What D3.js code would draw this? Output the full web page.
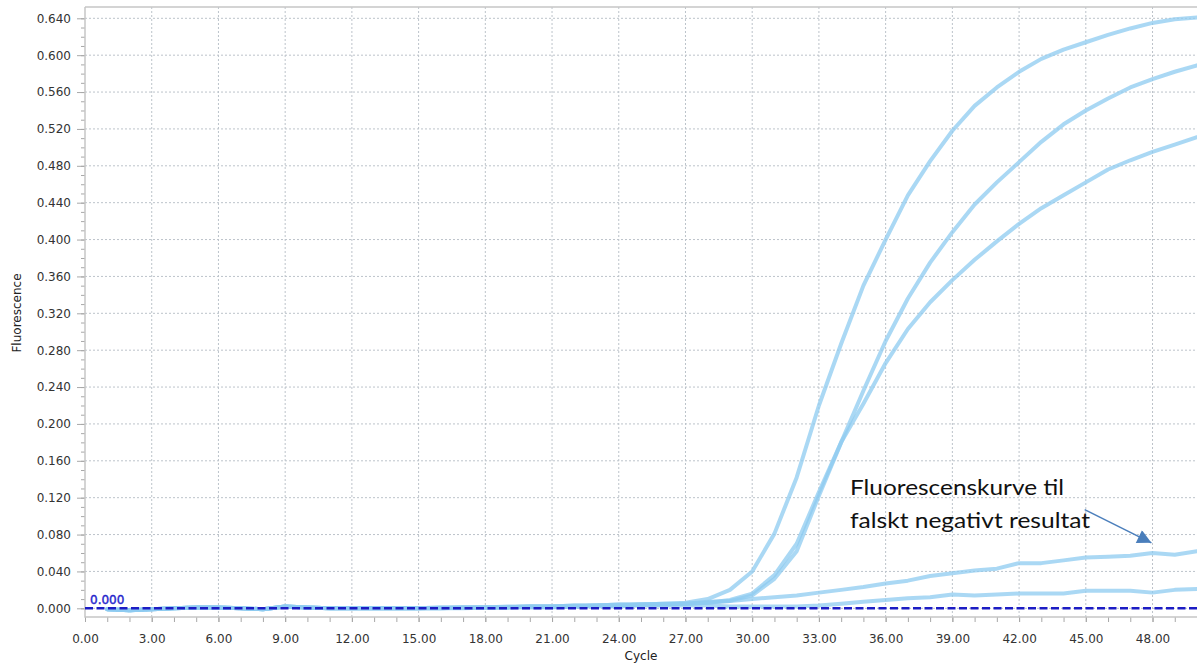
<!DOCTYPE html>
<html>
<head>
<meta charset="utf-8">
<script src="https://cdn.jsdelivr.net/npm/d3@7"></script>
<style>
  html, body { margin: 0; padding: 0; background: #fff; }
  svg { display: block; font-family: "DejaVu Sans", sans-serif; }
  .tick text { fill: #333; font-size: 12px; }
  .tick line { stroke: #a8a8a8; }
</style>
</head>
<body>
<svg id="chart" width="1197" height="664"></svg>
<script>
// cycles 1..50
const cycles = [1, 2, 3, 4, 5, 6, 7, 8, 9, 10, 11, 12, 13, 14, 15, 16, 17, 18, 19, 20,
  21, 22, 23, 24, 25, 26, 27, 28, 29, 30, 31, 32, 33, 34, 35, 36, 37, 38, 39, 40,
  41, 42, 43, 44, 45, 46, 47, 48, 49, 50];

// fluorescence per well
const wellA = [-0.001, -0.002, -0.001, 0.000, 0.001, 0.001, 0.000, -0.001, 0.002, 0.001,
  0.000, 0.000, 0.000, 0.000, 0.000, 0.001, 0.001, 0.001, 0.002, 0.002,
  0.002, 0.003, 0.003, 0.004, 0.004, 0.005, 0.006, 0.010, 0.020, 0.040,
  0.081, 0.142, 0.220, 0.287, 0.350, 0.400, 0.448, 0.485, 0.518, 0.545,
  0.565, 0.582, 0.596, 0.606, 0.614, 0.622, 0.629, 0.635, 0.639, 0.641];
const wellB = [-0.001, -0.002, -0.001, 0.000, 0.001, 0.001, 0.000, -0.001, 0.002, 0.001,
  0.000, 0.000, 0.000, 0.000, 0.000, 0.000, 0.001, 0.001, 0.001, 0.002,
  0.002, 0.002, 0.003, 0.003, 0.004, 0.004, 0.005, 0.006, 0.009, 0.016,
  0.036, 0.070, 0.126, 0.180, 0.236, 0.290, 0.336, 0.375, 0.408, 0.438,
  0.462, 0.484, 0.506, 0.525, 0.540, 0.553, 0.565, 0.574, 0.582, 0.589];
const wellC = [-0.001, -0.002, -0.001, 0.000, 0.001, 0.001, 0.000, -0.001, 0.002, 0.001,
  0.000, 0.000, 0.000, 0.000, 0.000, 0.000, 0.001, 0.001, 0.001, 0.002,
  0.002, 0.002, 0.003, 0.003, 0.004, 0.004, 0.005, 0.006, 0.008, 0.014,
  0.032, 0.062, 0.122, 0.180, 0.222, 0.266, 0.303, 0.332, 0.356, 0.378,
  0.398, 0.417, 0.434, 0.448, 0.462, 0.476, 0.486, 0.495, 0.503, 0.511];
const wellD = [-0.001, -0.002, -0.001, 0.000, 0.001, 0.001, 0.000, -0.001, 0.002, 0.001,
  0.000, 0.000, 0.000, 0.000, 0.000, 0.001, 0.001, 0.001, 0.001, 0.002,
  0.002, 0.003, 0.003, 0.004, 0.004, 0.005, 0.005, 0.007, 0.008, 0.010,
  0.012, 0.014, 0.017, 0.020, 0.023, 0.027, 0.030, 0.035, 0.038, 0.041,
  0.043, 0.049, 0.049, 0.052, 0.055, 0.056, 0.057, 0.060, 0.058, 0.062];
const wellE = [-0.001, -0.002, -0.001, 0.000, 0.001, 0.001, 0.000, -0.001, 0.002, 0.001,
  0.000, 0.000, 0.000, 0.000, 0.000, 0.000, 0.000, 0.001, 0.001, 0.001,
  0.001, 0.002, 0.002, 0.002, 0.003, 0.003, 0.003, 0.003, 0.002, 0.002,
  0.002, 0.002, 0.003, 0.005, 0.007, 0.009, 0.011, 0.012, 0.015, 0.014,
  0.015, 0.016, 0.016, 0.016, 0.019, 0.019, 0.019, 0.017, 0.020, 0.021];

const xTicks = [0, 3, 6, 9, 12, 15, 18, 21, 24, 27, 30, 33, 36, 39, 42, 45, 48];
const yTicks = [0, 0.04, 0.08, 0.12, 0.16, 0.2, 0.24, 0.28, 0.32, 0.36, 0.4, 0.44,
  0.48, 0.52, 0.56, 0.6, 0.64];
const threshold = 0.0;
const noteLines = ["Fluorescenskurve til", "falskt negativt resultat"];

// plot frame (pixels)
const plotLeft = 85, plotRight = 1197, plotTop = 7, plotBottom = 617;

const svg = d3.select("#chart");

const x = d3.scaleLinear().domain([0, 50]).range([plotLeft, plotRight]);
const y = d3.scaleLinear().domain([0, 0.64]).range([608.3, 18.3]);

// dotted grid
svg.append("g")
  .selectAll("line")
  .data(xTicks.filter((d) => d > 0))
  .join("line")
  .attr("x1", (d) => x(d)).attr("x2", (d) => x(d))
  .attr("y1", plotTop).attr("y2", plotBottom)
  .attr("stroke", "#bcc3ca")
  .attr("stroke-dasharray", "2,2");

svg.append("g")
  .selectAll("line")
  .data(yTicks)
  .join("line")
  .attr("x1", plotLeft).attr("x2", plotRight)
  .attr("y1", (d) => y(d)).attr("y2", (d) => y(d))
  .attr("stroke", "#bcc3ca")
  .attr("stroke-dasharray", "2,2");

// minor ticks
const yMinor = d3.range(0, 0.645, 0.01);
const xMinor = d3.range(0, 51, 1);

svg.append("g")
  .attr("transform", `translate(${plotLeft},0)`)
  .call(d3.axisLeft(y).tickValues(yMinor).tickSize(4).tickFormat(""))
  .call((g) => g.select(".domain").remove());

svg.append("g")
  .attr("transform", `translate(0,${plotBottom})`)
  .call(d3.axisBottom(x).tickValues(xMinor).tickSize(5).tickFormat(""))
  .call((g) => g.select(".domain").remove());

// major axes
svg.append("g")
  .attr("transform", `translate(${plotLeft},0)`)
  .call(d3.axisLeft(y).tickValues(yTicks).tickSize(8).tickPadding(6)
    .tickFormat(d3.format(".3f")))
  .call((g) => g.select(".domain").remove())
  .call((g) => g.selectAll("text").attr("font-family", "DejaVu Sans").attr("font-size", 12));

svg.append("g")
  .attr("transform", `translate(0,${plotBottom})`)
  .call(d3.axisBottom(x).tickValues(xTicks).tickSize(5).tickPadding(12)
    .tickFormat(d3.format(".2f")))
  .call((g) => g.select(".domain").remove())
  .call((g) => g.selectAll("text").attr("font-family", "DejaVu Sans").attr("font-size", 12));

// frame lines
svg.append("path")
  .attr("d", `M${plotLeft},${plotTop}H${plotRight}M${plotLeft},${plotTop}V${plotBottom}H${plotRight}`)
  .attr("fill", "none")
  .attr("stroke", "#c6c6c6")
  .attr("stroke-width", 1.5);

// axis titles
svg.append("text")
  .attr("transform", "translate(21,313) rotate(-90)")
  .attr("text-anchor", "middle")
  .attr("font-size", 12)
  .attr("fill", "#222")
  .text("Fluorescence");

svg.append("text")
  .attr("x", 641)
  .attr("y", 660)
  .attr("text-anchor", "middle")
  .attr("font-size", 12)
  .attr("fill", "#222")
  .text("Cycle");

// curves
svg.append("clipPath").attr("id", "plot-clip")
  .append("rect")
  .attr("x", plotLeft).attr("y", plotTop)
  .attr("width", plotRight - plotLeft).attr("height", plotBottom - plotTop);

const wells = [wellE, wellD, wellC, wellB, wellA];
const line = d3.line()
  .x((d, i) => x(cycles[i]))
  .y((d) => y(d));

svg.append("g")
  .attr("clip-path", "url(#plot-clip)")
  .selectAll("path")
  .data(wells)
  .join("path")
  .attr("d", line)
  .attr("fill", "none")
  .attr("stroke", "#8ecbf0")
  .attr("stroke-opacity", 0.75)
  .attr("stroke-width", 4)
  .attr("stroke-linejoin", "round")
  .attr("stroke-linecap", "round");

// threshold line + label
svg.append("line")
  .attr("x1", plotLeft).attr("x2", plotRight)
  .attr("y1", y(threshold)).attr("y2", y(threshold))
  .attr("stroke", "#1c1cc4")
  .attr("stroke-width", 2.5)
  .attr("stroke-dasharray", "8,3.5");

svg.append("text")
  .attr("x", plotLeft + 5)
  .attr("y", y(threshold) - 4)
  .attr("font-size", 12)
  .attr("fill", "#2424cc")
  .attr("stroke", "#2424cc")
  .attr("stroke-width", 0.4)
  .text(d3.format(".3f")(threshold));

// annotation
const note = svg.append("text")
  .attr("font-family", "Lato, 'Open Sans', sans-serif")
  .attr("font-size", 22)
  .attr("fill", "#111");

note.selectAll("tspan")
  .data(noteLines)
  .join("tspan")
  .attr("x", x(34.4))
  .attr("y", (d, i) => 495 + i * 32.7)
  .attr("textLength", (d, i) => (i === 0 ? 214 : 240))
  .attr("lengthAdjust", "spacingAndGlyphs")
  .text((d) => d);

svg.append("defs")
  .append("marker")
  .attr("id", "arrow")
  .attr("viewBox", "0 0 10 10")
  .attr("refX", 10).attr("refY", 5)
  .attr("markerWidth", 19).attr("markerHeight", 14)
  .attr("markerUnits", "userSpaceOnUse")
  .attr("orient", "auto")
  .append("path")
  .attr("d", "M0,0L10,5L0,10Z")
  .attr("fill", "#4a7ebb");

svg.append("line")
  .attr("x1", x(44.95)).attr("y1", y(0.107))
  .attr("x2", x(47.95)).attr("y2", y(0.071))
  .attr("stroke", "#4a7ebb")
  .attr("stroke-width", 1.5)
  .attr("marker-end", "url(#arrow)");
</script>
</body>
</html>
